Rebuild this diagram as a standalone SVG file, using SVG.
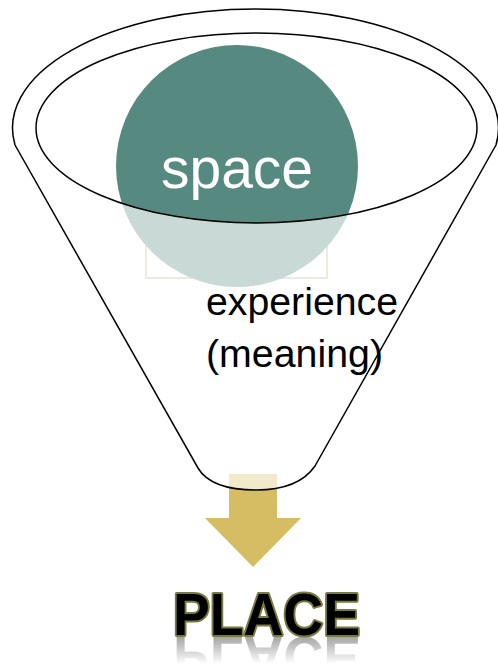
<svg xmlns="http://www.w3.org/2000/svg" width="498" height="664" viewBox="0 0 498 664">
  <style>
    .outline { fill: #ffffff; fill-opacity: 0.68; fill-rule: evenodd; stroke: #000000; stroke-width: 1.5; stroke-linejoin: round; }
    .lbl { font-family: "Liberation Sans", Arial, sans-serif; }
  </style>
  <defs>
    <linearGradient id="refl" x1="0" y1="636" x2="0" y2="664" gradientUnits="userSpaceOnUse">
      <stop offset="0" stop-color="#ffffff" stop-opacity="0.55"/>
      <stop offset="1" stop-color="#ffffff" stop-opacity="0"/>
    </linearGradient>
    <mask id="reflMask" maskUnits="userSpaceOnUse" x="0" y="600" width="498" height="64">
      <rect x="0" y="636" width="498" height="28" fill="url(#refl)"/>
    </mask>
  </defs>
  <rect width="498" height="664" fill="#ffffff"/>

  <g id="frame-box">
    <rect x="146" y="200" width="181" height="78" fill="none" stroke="#b2ac82" stroke-width="1.5"/>
  </g>

  <g id="space-node">
    <circle cx="237" cy="166" r="121" fill="#568a80"/>
  </g>

  <g id="connectors">
    <polygon points="229,474 277,474 277,518 301,518 253,567 205,518 229,518" fill="#d6bc63"/>
  </g>

  <g id="funnel">
    <path class="outline" d="M 15,145 A 243 119 0 1 1 496,145 L 315,466 C 302,485 278,490 256,490 C 232,490 208,485 198,468 Z M 36,128 A 220.5 95 0 1 0 477,128 A 220.5 95 0 1 0 36,128 Z"/>
  </g>

  <g id="space-label">
    <text class="lbl" x="237" y="188" font-size="57" fill="#ffffff" text-anchor="middle">space</text>
  </g>

  <g id="experience-node">
    <text class="lbl" x="206" y="315" font-size="38" fill="#000000" textLength="192" lengthAdjust="spacingAndGlyphs">experience</text>
    <text class="lbl" x="206" y="367" font-size="38" fill="#000000" textLength="177" lengthAdjust="spacingAndGlyphs">(meaning)</text>
  </g>

  <g id="place-node">
    <g mask="url(#reflMask)">
      <text class="lbl" x="173" y="635" font-size="60" font-weight="bold" textLength="187" lengthAdjust="spacingAndGlyphs" fill="#555555" transform="translate(0,1272) scale(1,-1)">PLACE</text>
    </g>
    <text class="lbl" x="173" y="635" font-size="60" font-weight="bold" textLength="187" lengthAdjust="spacingAndGlyphs" fill="#000000" stroke="#7b7a3e" stroke-width="4" paint-order="stroke" stroke-linejoin="round">PLACE</text>
  </g>
</svg>
